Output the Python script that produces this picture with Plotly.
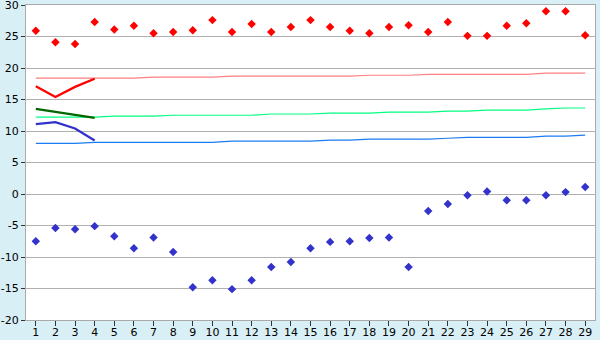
import plotly.graph_objects as go

days = list(range(1, 30))

max_temp = [25.9, 24.1, 23.8, 27.3, 26.1, 26.7, 25.5, 25.7, 26.0, 27.6,
            25.7, 27.0, 25.7, 26.5, 27.6, 26.5, 25.9, 25.5, 26.5, 26.8,
            25.7, 27.3, 25.1, 25.1, 26.7, 27.1, 29.0, 29.0, 25.2]
min_temp = [-7.5, -5.4, -5.6, -5.1, -6.7, -8.6, -6.9, -9.2, -14.8, -13.7,
            -15.1, -13.7, -11.6, -10.8, -8.6, -7.6, -7.5, -7.0, -6.9, -11.6,
            -2.7, -1.6, -0.2, 0.4, -1.0, -1.0, -0.2, 0.3, 1.1]

avg_days = [1, 2, 3, 4]
avg_max = [17.1, 15.4, 17.0, 18.3]
avg_mean = [13.5, 13.0, 12.6, 12.1]
avg_min = [11.1, 11.4, 10.4, 8.5]

norm_max = [18.4, 18.4, 18.4, 18.4, 18.4, 18.4, 18.55, 18.55, 18.55, 18.55,
            18.7, 18.7, 18.7, 18.7, 18.7, 18.7, 18.7, 18.85, 18.85, 18.85,
            19.0, 19.0, 19.0, 19.0, 19.0, 19.0, 19.2, 19.2, 19.2]
norm_mean = [12.2, 12.2, 12.2, 12.2, 12.35, 12.35, 12.35, 12.5, 12.5, 12.5,
             12.5, 12.5, 12.7, 12.7, 12.7, 12.85, 12.85, 12.85, 13.0, 13.0,
             13.0, 13.15, 13.15, 13.3, 13.3, 13.3, 13.5, 13.65, 13.65]
norm_min = [8.05, 8.05, 8.05, 8.2, 8.2, 8.2, 8.2, 8.2, 8.2, 8.2,
            8.4, 8.4, 8.4, 8.4, 8.4, 8.55, 8.55, 8.7, 8.7, 8.7,
            8.7, 8.85, 9.0, 9.0, 9.0, 9.0, 9.2, 9.2, 9.35]

y_ticks = [-20, -15, -10, -5, 0, 5, 10, 15, 20, 25, 30]
y_labels = [str(v) for v in y_ticks]

fig = go.Figure()

fig.add_trace(go.Scatter(x=days, y=norm_max, mode="lines",
                         line=dict(color="#ff8080", width=1.2)))
fig.add_trace(go.Scatter(x=days, y=norm_mean, mode="lines",
                         line=dict(color="#00ff80", width=1.2)))
fig.add_trace(go.Scatter(x=days, y=norm_min, mode="lines",
                         line=dict(color="#1a7cf0", width=1.2)))

fig.add_trace(go.Scatter(x=avg_days, y=avg_max, mode="lines",
                         line=dict(color="#ff0000", width=2.3)))
fig.add_trace(go.Scatter(x=avg_days, y=avg_mean, mode="lines",
                         line=dict(color="#006600", width=2.3)))
fig.add_trace(go.Scatter(x=avg_days, y=avg_min, mode="lines",
                         line=dict(color="#3333cc", width=2.3)))

fig.add_trace(go.Scatter(x=days, y=max_temp, mode="markers",
                         marker=dict(symbol="diamond", size=6.5, color="#ff0000",
                                     line=dict(width=0))))
fig.add_trace(go.Scatter(x=days, y=min_temp, mode="markers",
                         marker=dict(symbol="diamond", size=6.5, color="#3333cc",
                                     line=dict(width=0))))

fig.update_layout(
    width=600, height=340,
    margin=dict(l=26, r=5, t=5, b=20, autoexpand=False),
    paper_bgcolor="#d9eff6",
    plot_bgcolor="#ffffff",
    showlegend=False,
    hovermode=False,
    font=dict(family="DejaVu Sans", size=11, color="#000000"),
    xaxis=dict(range=[0.5, 29.5], tickmode="array", tickvals=days,
               ticktext=[str(d) for d in days],
               showgrid=False, zeroline=False,
               showline=True, linecolor="#aaaaaa", linewidth=1, mirror=True,
               ticks="outside", ticklen=5, tickcolor="#333333",
               ticklabelstandoff=-3, ticklabeloverflow="allow",
               automargin=False, fixedrange=True),
    yaxis=dict(range=[-20, 30], tickmode="array", tickvals=y_ticks,
               ticktext=y_labels,
               showgrid=True, gridcolor="#b0b0b0", gridwidth=1,
               zeroline=False,
               showline=True, linecolor="#aaaaaa", linewidth=1, mirror=True,
               ticks="outside", ticklen=4, tickcolor="#333333",
               ticklabeloverflow="allow",
               automargin=False, fixedrange=True),
)

fig.write_html("out.html", config={"displayModeBar": False})
